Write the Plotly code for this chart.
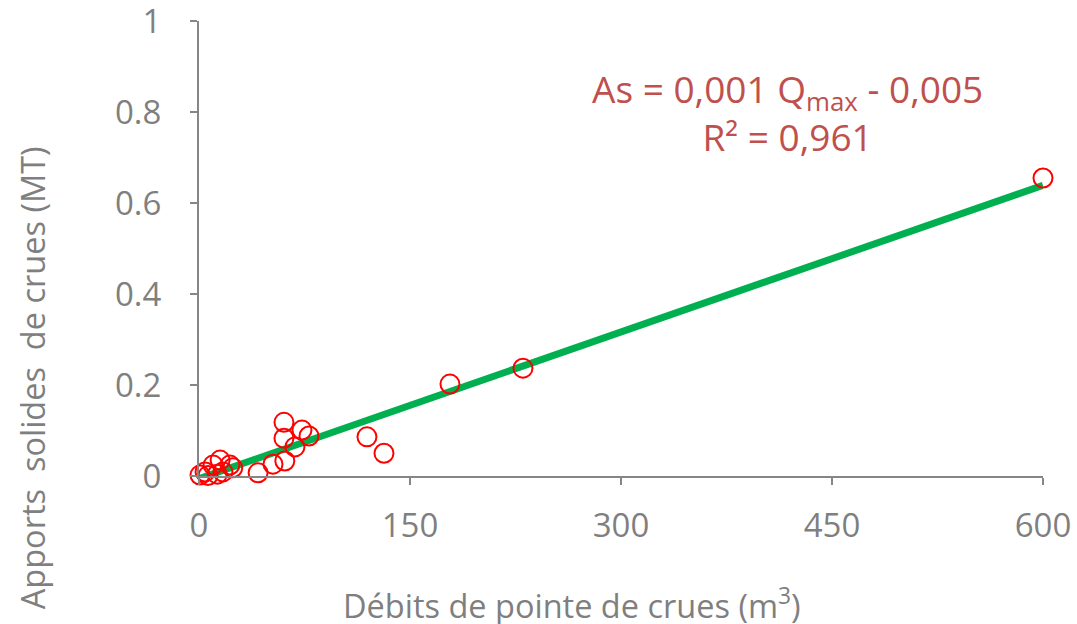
import numpy as np
import plotly.graph_objects as go

# Peak flood discharge (m3) and sediment yield (MT) per flood event
debits = [0.7, 4.3, 6.4, 10, 13, 15, 17, 22, 24, 42, 52.6, 60.4, 60.4, 61, 68.2, 73.2, 78.2,
          119.4, 131.5, 178.4, 230.3, 600]
apports = [0.002, 0.009, 0.001, 0.024, 0.004, 0.035, 0.009, 0.024, 0.018, 0.007, 0.026, 0.118,
           0.083, 0.033, 0.064, 0.101, 0.088, 0.086, 0.050, 0.202, 0.237, 0.655]

x_ticks = [0, 150, 300, 450, 600]
y_ticks = [0, 0.2, 0.4, 0.6, 0.8, 1]
y_tick_text = ["0", "0.2", "0.4", "0.6", "0.8", "1"]

equation_text = "As = 0,001 Q<sub>max</sub> - 0,005<br>R² = 0,961"

# Linear least-squares trend over the observed range
slope, intercept = np.polyfit(debits, apports, 1)
x_fit = np.array([min(debits), max(debits)])
y_fit = slope * x_fit + intercept

FONT = "'Open Sans', sans-serif"
GREY = "#7f7f7f"

fig = go.Figure()
fig.add_trace(go.Scatter(
    x=x_fit, y=y_fit, mode="lines",
    line=dict(color="#00B050", width=7),
    cliponaxis=False, showlegend=False, hoverinfo="skip",
))
fig.add_trace(go.Scatter(
    x=debits, y=apports, mode="markers",
    marker=dict(symbol="circle-open", size=19, color="#FF0000", line=dict(width=2, color="#FF0000")),
    cliponaxis=False, showlegend=False,
))

fig.update_layout(
    width=1077, height=624,
    margin=dict(l=199, r=34, t=21, b=148),
    paper_bgcolor="white", plot_bgcolor="white",
    font=dict(family=FONT, color=GREY, size=32),
    xaxis=dict(
        range=[0, 600], tickvals=x_ticks, showgrid=False, zeroline=False, automargin=False,
        showline=True, linecolor="#868686", linewidth=2,
        ticks="outside", ticklen=7, tickwidth=2, tickcolor="#868686",
        ticklabelstandoff=12, ticklabeloverflow="allow",
        tickfont=dict(family=FONT, size=33, color=GREY),
    ),
    yaxis=dict(
        range=[0, 1], tickvals=y_ticks, ticktext=y_tick_text, showgrid=False, zeroline=False,
        automargin=False,
        showline=True, linecolor="#868686", linewidth=2,
        ticks="outside", ticklen=7, tickwidth=2, tickcolor="#868686",
        ticklabelstandoff=22, ticklabeloverflow="allow",
        tickfont=dict(family=FONT, size=33, color=GREY),
    ),
    annotations=[
        dict(text="Débits de pointe de crues (m<sup>3</sup>)", xref="paper", yref="paper",
             x=(572 - 199) / 844, y=-(604 - 476) / 456, showarrow=False,
             xanchor="center", yanchor="middle",
             font=dict(family=FONT, size=32.5, color=GREY)),
        dict(text="Apports\u00a0 solides\u00a0 de crues (MT)", xref="paper", yref="paper",
             x=-(199 - 32) / 844, y=(476 - 378) / 456, showarrow=False, textangle=-90,
             xanchor="center", yanchor="middle",
             font=dict(family=FONT, size=32.5, color=GREY)),
        dict(text=equation_text, xref="paper", yref="paper",
             x=(787 - 199) / 844, y=(476 - 112) / 456, showarrow=False,
             xanchor="center", yanchor="middle", align="center",
             font=dict(family=FONT, size=37, color="#C0504D")),
    ],
)

fig.write_html("out.html")
